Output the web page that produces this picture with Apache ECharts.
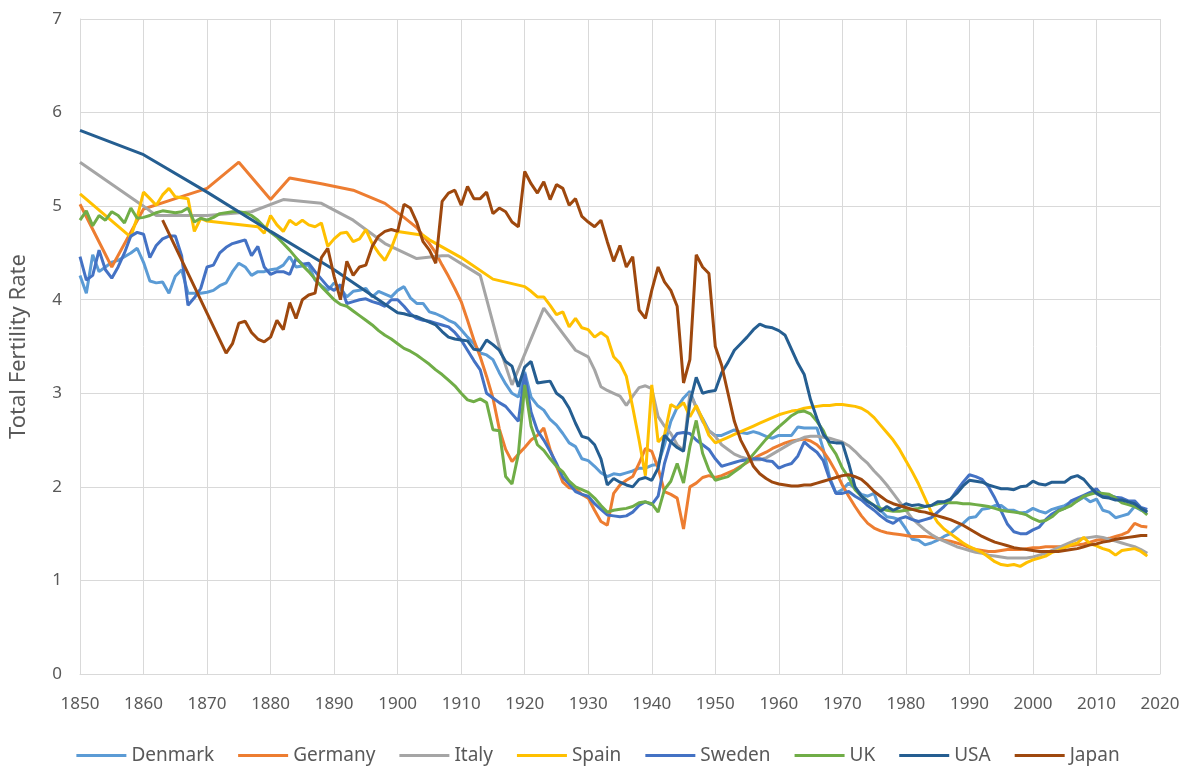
<!DOCTYPE html>
<html>
<head>
<meta charset="utf-8">
<script src="https://cdn.jsdelivr.net/npm/echarts@6/dist/echarts.min.js"></script>
<style>
  html, body { margin: 0; padding: 0; background: #fff; }
  #chart { width: 1196px; height: 772px; }
</style>
</head>
<body>
<div id="chart"></div>
<script>
// [year, total fertility rate]
const denmark = [[1850,4.26],[1851,4.07],[1852,4.48],[1853,4.3],[1854,4.35],[1855,4.4],[1856,4.42],[1857,4.46],[1858,4.5],[1859,4.55],
  [1860,4.4],[1861,4.2],[1862,4.18],[1863,4.19],[1864,4.07],[1865,4.25],[1866,4.32],[1867,4.07],[1868,4.07],[1869,4.07],
  [1870,4.08],[1871,4.1],[1872,4.15],[1873,4.18],[1874,4.3],[1875,4.39],[1876,4.35],[1877,4.26],[1878,4.3],[1879,4.3],
  [1880,4.32],[1881,4.33],[1882,4.37],[1883,4.46],[1884,4.35],[1885,4.36],[1886,4.37],[1887,4.21],[1888,4.15],[1889,4.1],
  [1890,4.18],[1891,4.12],[1892,4.03],[1893,4.09],[1894,4.1],[1895,4.12],[1896,4.03],[1897,4.09],[1898,4.06],[1899,4.03],
  [1900,4.1],[1901,4.14],[1902,4.02],[1903,3.96],[1904,3.96],[1905,3.87],[1906,3.85],[1907,3.82],[1908,3.78],[1909,3.75],
  [1910,3.68],[1911,3.6],[1912,3.53],[1913,3.43],[1914,3.41],[1915,3.36],[1916,3.22],[1917,3.1],[1918,3.0],[1919,2.96],
  [1920,3.23],[1921,2.96],[1922,2.87],[1923,2.82],[1924,2.72],[1925,2.66],[1926,2.57],[1927,2.47],[1928,2.43],[1929,2.3],
  [1930,2.28],[1931,2.22],[1932,2.15],[1933,2.11],[1934,2.14],[1935,2.13],[1936,2.15],[1937,2.17],[1938,2.2],[1939,2.2],
  [1940,2.23],[1941,2.24],[1942,2.45],[1943,2.7],[1944,2.85],[1945,2.95],[1946,3.02],[1947,2.85],[1948,2.73],[1949,2.6],
  [1950,2.55],[1951,2.55],[1952,2.58],[1953,2.61],[1954,2.58],[1955,2.57],[1956,2.59],[1957,2.57],[1958,2.54],[1959,2.52],
  [1960,2.55],[1961,2.55],[1962,2.55],[1963,2.64],[1964,2.63],[1965,2.63],[1966,2.63],[1967,2.4],[1968,2.1],[1969,1.93],
  [1970,1.97],[1971,2.04],[1972,1.98],[1973,1.92],[1974,1.9],[1975,1.93],[1976,1.75],[1977,1.68],[1978,1.67],[1979,1.65],
  [1980,1.55],[1981,1.44],[1982,1.43],[1983,1.38],[1984,1.4],[1985,1.43],[1986,1.47],[1987,1.5],[1988,1.56],[1989,1.61],
  [1990,1.67],[1991,1.68],[1992,1.76],[1993,1.77],[1994,1.8],[1995,1.8],[1996,1.75],[1997,1.75],[1998,1.72],[1999,1.73],
  [2000,1.77],[2001,1.74],[2002,1.72],[2003,1.76],[2004,1.78],[2005,1.8],[2006,1.84],[2007,1.85],[2008,1.89],[2009,1.84],
  [2010,1.87],[2011,1.75],[2012,1.73],[2013,1.67],[2014,1.69],[2015,1.71],[2016,1.79],[2017,1.75],[2018,1.73]];

const germany = [[1850,5.02],[1855,4.35],[1860,4.97],[1865,5.08],[1870,5.19],[1875,5.47],[1880,5.07],[1883,5.3],[1888,5.24],[1893,5.17],
  [1898,5.03],[1901,4.88],[1903,4.77],[1905,4.6],[1906,4.5],[1907,4.37],[1908,4.25],[1909,4.12],[1910,3.98],[1911,3.78],
  [1912,3.57],[1913,3.39],[1914,3.18],[1915,2.95],[1916,2.62],[1917,2.4],[1918,2.27],[1919,2.35],[1920,2.42],[1921,2.5],
  [1922,2.55],[1923,2.63],[1924,2.4],[1925,2.22],[1926,2.05],[1927,1.99],[1928,1.98],[1929,1.92],[1930,1.88],[1931,1.75],
  [1932,1.63],[1933,1.59],[1934,1.93],[1935,2.02],[1936,2.07],[1937,2.11],[1938,2.25],[1939,2.41],[1940,2.38],[1941,2.2],
  [1942,1.95],[1943,1.92],[1944,1.88],[1945,1.55],[1946,2.0],[1947,2.04],[1948,2.1],[1949,2.12],[1950,2.1],[1951,2.12],
  [1952,2.15],[1953,2.18],[1954,2.22],[1955,2.26],[1956,2.3],[1957,2.34],[1958,2.37],[1959,2.41],[1960,2.44],[1961,2.47],
  [1962,2.49],[1963,2.5],[1964,2.51],[1965,2.49],[1966,2.45],[1967,2.38],[1968,2.28],[1969,2.16],[1970,2.02],[1971,1.9],
  [1972,1.79],[1973,1.69],[1974,1.61],[1975,1.56],[1976,1.53],[1977,1.51],[1978,1.5],[1979,1.49],[1980,1.48],[1981,1.47],
  [1982,1.47],[1983,1.47],[1984,1.46],[1985,1.45],[1986,1.43],[1987,1.42],[1988,1.4],[1989,1.38],[1990,1.35],[1991,1.33],
  [1992,1.32],[1993,1.31],[1994,1.31],[1995,1.32],[1996,1.33],[1997,1.33],[1998,1.33],[1999,1.34],[2000,1.35],[2001,1.35],
  [2002,1.36],[2003,1.36],[2004,1.36],[2005,1.36],[2006,1.37],[2007,1.38],[2008,1.39],[2009,1.41],[2010,1.43],[2011,1.44],
  [2012,1.45],[2013,1.47],[2014,1.49],[2015,1.52],[2016,1.61],[2017,1.58],[2018,1.57]];

const italy = [[1850,5.47],[1860,5.0],[1862,4.9],[1870,4.9],[1877,4.94],[1882,5.07],[1888,5.03],[1893,4.85],[1898,4.6],[1903,4.44],
  [1907,4.47],[1908,4.47],[1913,4.26],[1916,3.5],[1918,3.09],[1923,3.91],[1928,3.46],[1930,3.39],[1931,3.25],[1932,3.07],
  [1933,3.03],[1934,3.0],[1935,2.97],[1936,2.87],[1937,2.97],[1938,3.06],[1939,3.08],[1940,3.05],[1941,2.75],[1942,2.65],
  [1943,2.57],[1944,2.45],[1945,2.39],[1946,3.0],[1947,2.85],[1948,2.7],[1949,2.6],[1950,2.54],[1951,2.45],[1952,2.4],
  [1953,2.35],[1954,2.32],[1955,2.3],[1956,2.29],[1957,2.29],[1958,2.31],[1959,2.35],[1960,2.39],[1961,2.43],[1962,2.47],
  [1963,2.5],[1964,2.53],[1965,2.54],[1966,2.54],[1967,2.53],[1968,2.52],[1969,2.5],[1970,2.48],[1971,2.44],[1972,2.38],
  [1973,2.31],[1974,2.25],[1975,2.17],[1976,2.1],[1977,2.02],[1978,1.93],[1979,1.84],[1980,1.75],[1981,1.66],[1982,1.6],
  [1983,1.54],[1984,1.49],[1985,1.45],[1986,1.42],[1987,1.39],[1988,1.36],[1989,1.34],[1990,1.32],[1991,1.3],[1992,1.29],
  [1993,1.27],[1994,1.26],[1995,1.25],[1996,1.24],[1997,1.24],[1998,1.24],[1999,1.24],[2000,1.25],[2001,1.27],[2002,1.29],
  [2003,1.32],[2004,1.35],[2005,1.38],[2006,1.41],[2007,1.44],[2008,1.45],[2009,1.46],[2010,1.47],[2011,1.46],[2012,1.44],
  [2013,1.42],[2014,1.4],[2015,1.38],[2016,1.36],[2017,1.33],[2018,1.29]];

const spain = [[1850,5.13],[1858,4.67],[1859,4.88],[1860,5.15],[1861,5.08],[1862,5.01],[1863,5.12],[1864,5.19],[1865,5.1],[1866,5.09],
  [1867,5.08],[1868,4.73],[1869,4.87],[1870,4.84],[1878,4.78],[1879,4.71],[1880,4.9],[1881,4.8],[1882,4.73],[1883,4.85],
  [1884,4.8],[1885,4.85],[1886,4.8],[1887,4.78],[1888,4.82],[1889,4.57],[1890,4.65],[1891,4.71],[1892,4.72],[1893,4.62],
  [1894,4.65],[1895,4.75],[1896,4.6],[1897,4.5],[1898,4.42],[1899,4.55],[1900,4.73],[1904,4.69],[1905,4.64],[1910,4.45],
  [1915,4.22],[1920,4.14],[1921,4.09],[1922,4.03],[1923,4.03],[1924,3.94],[1925,3.84],[1926,3.87],[1927,3.71],[1928,3.8],
  [1929,3.7],[1930,3.68],[1931,3.6],[1932,3.65],[1933,3.6],[1934,3.39],[1935,3.32],[1936,3.18],[1937,2.85],[1938,2.5],
  [1939,2.12],[1940,3.09],[1941,2.48],[1942,2.55],[1943,2.88],[1944,2.84],[1945,2.9],[1946,2.75],[1947,2.87],[1948,2.72],
  [1949,2.55],[1950,2.47],[1951,2.5],[1952,2.53],[1953,2.56],[1954,2.59],[1955,2.62],[1956,2.65],[1957,2.68],[1958,2.71],
  [1959,2.74],[1960,2.77],[1961,2.79],[1962,2.81],[1963,2.82],[1964,2.84],[1965,2.85],[1966,2.86],[1967,2.87],[1968,2.87],
  [1969,2.88],[1970,2.88],[1971,2.87],[1972,2.86],[1973,2.84],[1974,2.8],[1975,2.74],[1976,2.66],[1977,2.58],[1978,2.5],
  [1979,2.4],[1980,2.28],[1981,2.16],[1982,2.03],[1983,1.88],[1984,1.73],[1985,1.62],[1986,1.55],[1987,1.5],[1988,1.45],
  [1989,1.4],[1990,1.36],[1991,1.33],[1992,1.3],[1993,1.25],[1994,1.2],[1995,1.17],[1996,1.16],[1997,1.17],[1998,1.15],
  [1999,1.19],[2000,1.22],[2001,1.24],[2002,1.26],[2003,1.3],[2004,1.32],[2005,1.35],[2006,1.38],[2007,1.4],[2008,1.46],
  [2009,1.39],[2010,1.37],[2011,1.34],[2012,1.32],[2013,1.27],[2014,1.32],[2015,1.33],[2016,1.34],[2017,1.31],[2018,1.26]];

const sweden = [[1850,4.46],[1851,4.21],[1852,4.26],[1853,4.53],[1854,4.32],[1855,4.23],[1856,4.35],[1857,4.5],[1858,4.68],[1859,4.72],
  [1860,4.7],[1861,4.45],[1862,4.58],[1863,4.65],[1864,4.68],[1865,4.68],[1866,4.47],[1867,3.94],[1868,4.02],[1869,4.12],
  [1870,4.35],[1871,4.37],[1872,4.5],[1873,4.56],[1874,4.6],[1875,4.62],[1876,4.64],[1877,4.47],[1878,4.57],[1879,4.35],
  [1880,4.27],[1881,4.3],[1882,4.3],[1883,4.27],[1884,4.44],[1885,4.38],[1886,4.39],[1887,4.3],[1888,4.22],[1889,4.14],
  [1890,4.1],[1891,4.16],[1892,3.96],[1893,3.98],[1894,4.0],[1895,4.01],[1896,3.98],[1897,3.96],[1898,3.93],[1899,4.0],
  [1900,4.0],[1901,3.93],[1902,3.85],[1903,3.8],[1904,3.78],[1905,3.77],[1906,3.75],[1907,3.73],[1908,3.71],[1909,3.65],
  [1910,3.57],[1911,3.46],[1912,3.35],[1913,3.25],[1914,3.0],[1915,2.95],[1916,2.9],[1917,2.86],[1918,2.78],[1919,2.7],
  [1920,3.21],[1921,2.8],[1922,2.6],[1923,2.5],[1924,2.38],[1925,2.25],[1926,2.1],[1927,2.03],[1928,1.95],[1929,1.92],
  [1930,1.9],[1931,1.82],[1932,1.76],[1933,1.7],[1934,1.69],[1935,1.68],[1936,1.69],[1937,1.73],[1938,1.8],[1939,1.84],
  [1940,1.81],[1941,1.9],[1942,2.25],[1943,2.48],[1944,2.57],[1945,2.58],[1946,2.57],[1947,2.5],[1948,2.45],[1949,2.4],
  [1950,2.3],[1951,2.22],[1952,2.24],[1953,2.26],[1954,2.28],[1955,2.29],[1956,2.3],[1957,2.3],[1958,2.28],[1959,2.27],
  [1960,2.2],[1961,2.23],[1962,2.25],[1963,2.33],[1964,2.48],[1965,2.42],[1966,2.37],[1967,2.28],[1968,2.08],[1969,1.93],
  [1970,1.93],[1971,1.95],[1972,1.9],[1973,1.86],[1974,1.8],[1975,1.75],[1976,1.69],[1977,1.64],[1978,1.61],[1979,1.66],
  [1980,1.68],[1981,1.65],[1982,1.63],[1983,1.65],[1984,1.67],[1985,1.73],[1986,1.79],[1987,1.86],[1988,1.96],[1989,2.05],
  [1990,2.13],[1991,2.11],[1992,2.08],[1993,2.0],[1994,1.88],[1995,1.74],[1996,1.6],[1997,1.52],[1998,1.5],[1999,1.5],
  [2000,1.54],[2001,1.57],[2002,1.65],[2003,1.71],[2004,1.75],[2005,1.77],[2006,1.85],[2007,1.88],[2008,1.91],[2009,1.94],
  [2010,1.98],[2011,1.9],[2012,1.91],[2013,1.89],[2014,1.88],[2015,1.85],[2016,1.85],[2017,1.78],[2018,1.76]];

const uk = [[1850,4.85],[1851,4.95],[1852,4.79],[1853,4.9],[1854,4.85],[1855,4.94],[1856,4.9],[1857,4.82],[1858,4.98],[1859,4.87],
  [1860,4.88],[1861,4.9],[1862,4.93],[1863,4.95],[1864,4.94],[1865,4.93],[1866,4.94],[1867,4.98],[1868,4.83],[1869,4.87],
  [1870,4.85],[1871,4.88],[1872,4.92],[1873,4.93],[1874,4.94],[1875,4.94],[1876,4.93],[1877,4.9],[1878,4.85],[1879,4.78],
  [1880,4.72],[1881,4.67],[1882,4.6],[1883,4.53],[1884,4.45],[1885,4.37],[1886,4.3],[1887,4.22],[1888,4.14],[1889,4.07],
  [1890,4.0],[1891,3.95],[1892,3.93],[1893,3.88],[1894,3.83],[1895,3.78],[1896,3.73],[1897,3.67],[1898,3.62],[1899,3.58],
  [1900,3.53],[1901,3.48],[1902,3.45],[1903,3.41],[1904,3.36],[1905,3.31],[1906,3.25],[1907,3.2],[1908,3.14],[1909,3.08],
  [1910,3.0],[1911,2.93],[1912,2.91],[1913,2.94],[1914,2.9],[1915,2.61],[1916,2.6],[1917,2.11],[1918,2.03],[1919,2.35],
  [1920,3.09],[1921,2.65],[1922,2.45],[1923,2.39],[1924,2.3],[1925,2.22],[1926,2.16],[1927,2.06],[1928,2.0],[1929,1.97],
  [1930,1.94],[1931,1.88],[1932,1.8],[1933,1.73],[1934,1.75],[1935,1.76],[1936,1.77],[1937,1.79],[1938,1.83],[1939,1.84],
  [1940,1.82],[1941,1.73],[1942,1.97],[1943,2.06],[1944,2.25],[1945,2.04],[1946,2.43],[1947,2.71],[1948,2.36],[1949,2.18],
  [1950,2.07],[1951,2.09],[1952,2.11],[1953,2.16],[1954,2.21],[1955,2.27],[1956,2.35],[1957,2.43],[1958,2.51],[1959,2.58],
  [1960,2.64],[1961,2.7],[1962,2.76],[1963,2.8],[1964,2.81],[1965,2.78],[1966,2.7],[1967,2.6],[1968,2.45],[1969,2.35],
  [1970,2.2],[1971,2.1],[1972,1.97],[1973,1.9],[1974,1.85],[1975,1.8],[1976,1.77],[1977,1.75],[1978,1.74],[1979,1.74],
  [1980,1.75],[1981,1.76],[1982,1.77],[1983,1.79],[1984,1.8],[1985,1.82],[1986,1.83],[1987,1.83],[1988,1.83],[1989,1.82],
  [1990,1.82],[1991,1.81],[1992,1.8],[1993,1.79],[1994,1.77],[1995,1.75],[1996,1.74],[1997,1.73],[1998,1.72],[1999,1.7],
  [2000,1.66],[2001,1.63],[2002,1.64],[2003,1.68],[2004,1.74],[2005,1.77],[2006,1.8],[2007,1.85],[2008,1.9],[2009,1.92],
  [2010,1.94],[2011,1.93],[2012,1.92],[2013,1.88],[2014,1.83],[2015,1.81],[2016,1.79],[2017,1.76],[2018,1.7]];

const usa = [[1850,5.81],[1860,5.55],[1870,5.15],[1880,4.73],[1890,4.32],[1900,3.86],[1901,3.85],[1902,3.83],[1903,3.82],[1904,3.79],
  [1905,3.76],[1906,3.73],[1907,3.66],[1908,3.6],[1909,3.58],[1910,3.57],[1911,3.56],[1912,3.47],[1913,3.46],[1914,3.57],
  [1915,3.52],[1916,3.46],[1917,3.34],[1918,3.29],[1919,3.07],[1920,3.28],[1921,3.34],[1922,3.11],[1923,3.12],[1924,3.13],
  [1925,3.0],[1926,2.95],[1927,2.84],[1928,2.68],[1929,2.54],[1930,2.52],[1931,2.45],[1932,2.3],[1933,2.02],[1934,2.09],
  [1935,2.05],[1936,2.02],[1937,2.0],[1938,2.08],[1939,2.1],[1940,2.07],[1941,2.2],[1942,2.55],[1943,2.48],[1944,2.42],
  [1945,2.38],[1946,2.9],[1947,3.17],[1948,3.0],[1949,3.02],[1950,3.03],[1951,3.22],[1952,3.33],[1953,3.46],[1954,3.53],
  [1955,3.6],[1956,3.68],[1957,3.74],[1958,3.71],[1959,3.7],[1960,3.67],[1961,3.62],[1962,3.47],[1963,3.32],[1964,3.2],
  [1965,2.93],[1966,2.73],[1967,2.56],[1968,2.48],[1969,2.47],[1970,2.47],[1971,2.25],[1972,2.0],[1973,1.9],[1974,1.84],
  [1975,1.8],[1976,1.74],[1977,1.79],[1978,1.75],[1979,1.78],[1980,1.82],[1981,1.8],[1982,1.81],[1983,1.79],[1984,1.8],
  [1985,1.84],[1986,1.84],[1987,1.87],[1988,1.93],[1989,2.01],[1990,2.07],[1991,2.06],[1992,2.05],[1993,2.02],[1994,2.0],
  [1995,1.98],[1996,1.98],[1997,1.97],[1998,2.0],[1999,2.01],[2000,2.06],[2001,2.03],[2002,2.02],[2003,2.05],[2004,2.05],
  [2005,2.05],[2006,2.1],[2007,2.12],[2008,2.08],[2009,2.0],[2010,1.93],[2011,1.89],[2012,1.88],[2013,1.86],[2014,1.86],
  [2015,1.84],[2016,1.82],[2017,1.77],[2018,1.73]];

const japan = [[1863,4.85],[1873,3.43],[1874,3.53],[1875,3.75],[1876,3.77],[1877,3.65],[1878,3.58],[1879,3.55],[1880,3.6],[1881,3.78],
  [1882,3.68],[1883,3.97],[1884,3.8],[1885,4.0],[1886,4.05],[1887,4.07],[1888,4.45],[1889,4.55],[1890,4.25],[1891,4.0],
  [1892,4.41],[1893,4.26],[1894,4.35],[1895,4.37],[1896,4.57],[1897,4.68],[1898,4.73],[1899,4.75],[1900,4.73],[1901,5.02],
  [1902,4.98],[1903,4.83],[1904,4.62],[1905,4.53],[1906,4.39],[1907,5.05],[1908,5.14],[1909,5.17],[1910,5.01],[1911,5.21],
  [1912,5.08],[1913,5.08],[1914,5.15],[1915,4.92],[1916,4.98],[1917,4.94],[1918,4.83],[1919,4.78],[1920,5.37],[1921,5.24],
  [1922,5.14],[1923,5.26],[1924,5.07],[1925,5.23],[1926,5.19],[1927,5.01],[1928,5.08],[1929,4.89],[1930,4.83],[1931,4.78],
  [1932,4.85],[1933,4.62],[1934,4.41],[1935,4.58],[1936,4.35],[1937,4.46],[1938,3.89],[1939,3.8],[1940,4.1],[1941,4.35],
  [1942,4.19],[1943,4.1],[1944,3.93],[1945,3.11],[1946,3.36],[1947,4.48],[1948,4.35],[1949,4.28],[1950,3.5],[1951,3.3],
  [1952,3.0],[1953,2.7],[1954,2.5],[1955,2.37],[1956,2.22],[1957,2.14],[1958,2.09],[1959,2.05],[1960,2.03],[1961,2.02],
  [1962,2.01],[1963,2.01],[1964,2.02],[1965,2.02],[1966,2.04],[1967,2.06],[1968,2.08],[1969,2.1],[1970,2.12],[1971,2.13],
  [1972,2.11],[1973,2.08],[1974,2.02],[1975,1.95],[1976,1.9],[1977,1.85],[1978,1.82],[1979,1.8],[1980,1.78],[1981,1.76],
  [1982,1.74],[1983,1.73],[1984,1.71],[1985,1.69],[1986,1.67],[1987,1.65],[1988,1.62],[1989,1.59],[1990,1.55],[1991,1.51],
  [1992,1.47],[1993,1.44],[1994,1.41],[1995,1.39],[1996,1.37],[1997,1.35],[1998,1.34],[1999,1.33],[2000,1.32],[2001,1.31],
  [2002,1.31],[2003,1.31],[2004,1.31],[2005,1.32],[2006,1.33],[2007,1.34],[2008,1.36],[2009,1.38],[2010,1.39],[2011,1.41],
  [2012,1.42],[2013,1.44],[2014,1.45],[2015,1.46],[2016,1.47],[2017,1.48],[2018,1.48]];

const countries = ['Denmark', 'Germany', 'Italy', 'Spain', 'Sweden', 'UK', 'USA', 'Japan'];
const seriesData = [denmark, germany, italy, spain, sweden, uk, usa, japan];
const colors = ['#5B9BD5', '#ED7D31', '#A5A5A5', '#FFC000', '#4472C4', '#70AD47', '#255E91', '#9E480E'];

const font = 'Noto Sans';
const textColor = '#595959';
const gridColor = '#D9D9D9';

let myChart = echarts.init(document.getElementById('chart'));
let option = {
  animation: false,
  color: colors,
  grid: { left: 80, right: 36, top: 19, bottom: 98 },
  legend: {
    data: countries,
    bottom: 2,
    left: 'center',
    itemWidth: 50,
    itemHeight: 3,
    itemGap: 24,
    icon: 'rect',
    textStyle: { fontFamily: font, fontSize: 19, color: textColor }
  },
  xAxis: {
    type: 'value',
    min: 1850,
    max: 2020,
    interval: 10,
    axisLine: { show: true, lineStyle: { color: gridColor, width: 1 } },
    axisTick: { show: false },
    splitLine: { show: true, lineStyle: { color: gridColor, width: 1 } },
    axisLabel: {
      formatter: v => String(v),
      fontFamily: font, fontSize: 17, color: textColor, margin: 22
    }
  },
  yAxis: {
    type: 'value',
    min: 0,
    max: 7,
    interval: 1,
    name: 'Total Fertility Rate',
    nameLocation: 'middle',
    nameGap: 50,
    nameTextStyle: { fontFamily: font, fontSize: 22, color: textColor },
    axisLine: { show: true, lineStyle: { color: gridColor, width: 1 } },
    axisTick: { show: false },
    splitLine: { show: true, lineStyle: { color: gridColor, width: 1 } },
    axisLabel: { fontFamily: font, fontSize: 17, color: textColor, margin: 18 }
  },
  series: countries.map((name, i) => ({
    name: name,
    type: 'line',
    data: seriesData[i],
    showSymbol: false,
    symbol: 'none',
    lineStyle: { width: 3, color: colors[i] },
    itemStyle: { color: colors[i] }
  }))
};
option && myChart.setOption(option);
</script>
</body>
</html>
